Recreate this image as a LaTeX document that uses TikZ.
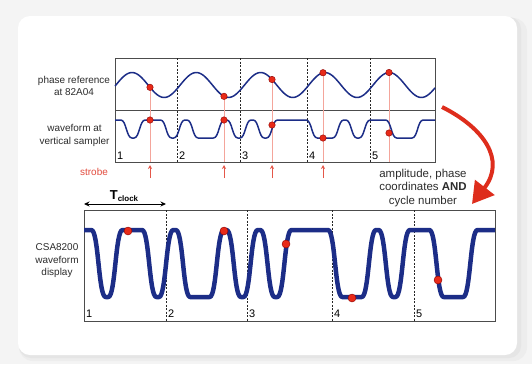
\documentclass[tikz,border=0pt]{standalone}
\usepackage{fontspec}
\setmainfont{Liberation Sans}
\usetikzlibrary{arrows.meta}

\definecolor{wave}{RGB}{28,45,135}
\definecolor{dotred}{RGB}{232,42,24}
\definecolor{strobered}{RGB}{244,165,155}
\definecolor{arrowred}{RGB}{222,45,28}
\definecolor{labelgray}{RGB}{45,45,45}
\definecolor{pagegray}{RGB}{244,244,244}

\tikzset{
  frame/.style = {draw=black!70, line width=0.8},
  cycleline/.style = {black!85, line width=0.7, dash pattern=on 2bp off 1.5bp},
  sample/.style = {circle, fill=dotred, draw=red!55!black, line width=0.4, inner sep=0pt, minimum size=6.5bp},
  bigsample/.style = {sample, minimum size=8bp},
  strobeline/.style = {strobered, line width=1},
  strobetip/.style = {-{Stealth[length=4bp,width=4bp]}, arrowred!80, line width=0.9},
  label/.style = {text=labelgray, align=center, font=\fontsize{10}{12.5}\selectfont},
  cyclenum/.style = {anchor=west, inner sep=0pt, text=black, font=\fontsize{11}{12}\selectfont},
  bigarrow/.style = {arrowred, line width=4, -{Triangle[length=21bp,width=24bp]}},
}

% same bit pattern in both plots: style, x of first bit, bit width, high y, low y
\newcommand{\bitwave}[5]{%
  \draw [#1] ({#2-20},#4) \foreach \b [count=\k from 0, remember=\b as \p (initially 1)] in
    {1,0,1,1,0,1,0,0,1,0,1,0,1,1,1,0,0,1,0,1,1,0,0,1,1}
    { -- ({#2+(\k-0.42)*#3}, {#5+(#4-#5)*\p})
      .. controls ({#2+\k*#3}, {#5+(#4-#5)*\p}) and ({#2+\k*#3}, {#5+(#4-#5)*\b})
      .. ({#2+(\k+0.42)*#3}, {#5+(#4-#5)*\b}) } -- ++(60,0);}

\begin{document}
\begin{tikzpicture}[x=1bp, y=-1bp, >={Stealth[length=5.5bp,width=5bp]}]
\useasboundingbox (0,0) rectangle (532,364);
\fill [pagegray] (0,0) rectangle (532,364);
\fill [black!7, rounded corners=14bp] (19,18) rectangle (527,361);
\fill [black!10, rounded corners=12bp] (19,17) rectangle (521,358);
\fill [white, rounded corners=12bp] (18,16) rectangle (517,355);

% top: phase reference and sampler
\draw [frame] (115,58) rectangle (435,162);
\draw [frame] (115,110) -- (435,110);
\draw [cycleline] (177,58) -- (177,162);
\draw [cycleline] (240,58) -- (240,162);
\draw [cycleline] (307,58) -- (307,162);
\draw [cycleline] (370,58) -- (370,162);
\node [cyclenum] (c1) at (117,156) {1};
\node [cyclenum] (c2) at (179,156) {2};
\node [cyclenum] (c3) at (242,156) {3};
\node [cyclenum] (c4) at (309,156) {4};
\node [cyclenum] (c5) at (372,156) {5};

\coordinate (t1) at (150,{85-12.5*cos(5.5988*(150-132))});
\coordinate (t2) at (224,{85-12.5*cos(5.5988*(224-132))});
\coordinate (t3) at (272,{85-12.5*cos(5.5988*(272-132))});
\coordinate (t4) at (323,{85-12.5*cos(5.5988*(323-132))});
\coordinate (t5) at (389,{85-12.5*cos(5.5988*(389-132))});
\coordinate (b1) at (150,162);
\coordinate (b2) at (224,162);
\coordinate (b3) at (272,162);
\coordinate (b4) at (323,162);
\coordinate (b5) at (389,162);
\draw [strobeline] (t1) -- (b1);
\draw [strobeline] (t2) -- (b2);
\draw [strobeline] (t3) -- (b3);
\draw [strobeline] (t4) -- (b4);
\draw [strobeline] (t5) -- (b5);

\draw [wave, line width=1.5] plot [domain=115:435, samples=160] (\x, {85-12.5*cos(5.5988*(\x-132))});
\begin{scope}
\clip (115,110) rectangle (435,162);
\bitwave{wave, line width=1.5, line join=round}{113.1}{13.24}{120}{138}
\end{scope}

\node [sample] (p1) at (t1) {};
\node [sample] (p2) at (t2) {};
\node [sample] (p3) at (t3) {};
\node [sample] (p4) at (t4) {};
\node [sample] (p5) at (t5) {};
\node [sample] (v1) at (150,120) {};
\node [sample] (v2) at (224,120) {};
\node [sample] (v3) at (272,125) {};
\node [sample] (v4) at (323,138) {};
\node [sample] (v5) at (389,133) {};

\coordinate (s1) at (150,178);
\coordinate (s2) at (224,178);
\coordinate (s3) at (272,178);
\coordinate (s4) at (323,178);
\draw [strobetip] (s1) -- ++(0,-13);
\draw [strobetip] (s2) -- ++(0,-13);
\draw [strobetip] (s3) -- ++(0,-13);
\draw [strobetip] (s4) -- ++(0,-13);

\node [label] (phaselabel) at (74,86) {phase reference\\at 82A04};
\node [label] (samplerlabel) at (74.5,135.5) {waveform at\\vertical sampler};
\node [label, text=arrowred!85] (strobelabel) at (94,172) {strobe};

% hand-over arrow
\coordinate (hop) at (442,107);
\coordinate (land) at (472,204);
\draw [bigarrow] (hop) .. controls (484,128) and (506,160) .. (land);
\node [label, font=\fontsize{11.5}{14}\selectfont] (handover) at (423,188) {amplitude, phase\\coordinates \textbf{AND}\\cycle number};

% bottom: CSA8200 display
\draw [frame] (84,210) rectangle (495,321);
\draw [cycleline] (166,210) -- (166,321);
\draw [cycleline] (247,210) -- (247,321);
\draw [cycleline] (332,210) -- (332,321);
\draw [cycleline] (414,210) -- (414,321);
\node [cyclenum] (d1) at (86,314) {1};
\node [cyclenum] (d2) at (168,314) {2};
\node [cyclenum] (d3) at (249,314) {3};
\node [cyclenum] (d4) at (334,314) {4};
\node [cyclenum] (d5) at (416,314) {5};

\begin{scope}
\clip (84,205) rectangle (495,321);
\bitwave{wave, line width=4.5, line join=round}{81.6}{16.9}{230}{297}
\end{scope}
\node [bigsample] (q1) at (128,231) {};
\node [bigsample] (q2) at (224,231) {};
\node [bigsample] (q3) at (286,244) {};
\node [bigsample] (q4) at (352,298) {};
\node [bigsample] (q5) at (438,280) {};

\coordinate (tl) at (84,204);
\coordinate (tr) at (166,204);
\draw [<->, line width=0.9] (tl) -- (tr);
\node [text=black] (tclock) at (124,196) {\fontsize{13}{14}\selectfont\textbf{T}\raisebox{-0.3ex}{\fontsize{8}{9}\selectfont\textbf{clock}}};

\node [label] (displaylabel) at (57,261) {CSA8200\\waveform\\display};
\end{tikzpicture}
\end{document}
